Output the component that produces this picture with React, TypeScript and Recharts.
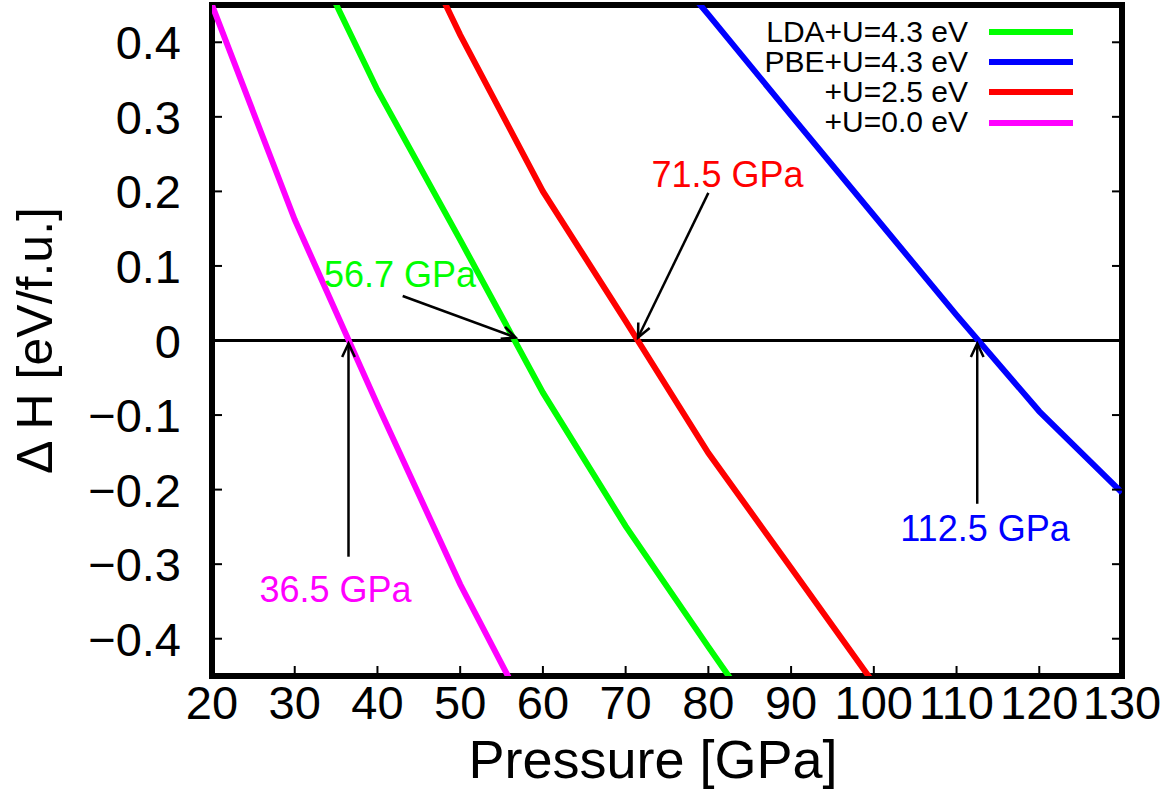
import React from 'react';
import { LineChart, Line, XAxis, YAxis, ReferenceLine, ReferenceDot, ReferenceArea, Legend, Label } from 'recharts';

// Pressure grid (GPa) and enthalpy differences ΔH (eV/f.u.) for each functional
const pressures = [20, 30, 40, 50, 60, 70, 80, 90, 100, 110, 120, 130];
const ldaU43 = [null, 0.566, 0.336, 0.135, -0.07, -0.249, -0.411, -0.57, null, null, null, null];
const pbeU43 = [null, null, null, null, null, 0.57, 0.437, 0.302, 0.168, 0.034, -0.095, -0.204];
const u25 = [null, null, 0.64, 0.41, 0.2, 0.026, -0.151, -0.305, -0.46, null, null, null];
const u00 = [0.45, 0.162, -0.086, -0.327, -0.54, null, null, null, null, null, null, null];

const xTicks = [20, 30, 40, 50, 60, 70, 80, 90, 100, 110, 120, 130];
const yTicks = [-0.4, -0.3, -0.2, -0.1, 0, 0.1, 0.2, 0.3, 0.4];
const xDomain = [20, 130];
const yDomain = [-0.45, 0.45];

const seriesNames = ['LDA+U=4.3 eV', 'PBE+U=4.3 eV', '+U=2.5 eV', '+U=0.0 eV'];
const seriesKeys = ['lda', 'pbe', 'u25', 'u00'];
const seriesColors = ['#00ff00', '#0000ff', '#ff0000', '#ff00ff'];

// Transition pressures (where ΔH crosses zero) and their annotation anchors
const transitions = [56.7, 112.5, 71.5, 36.5];
const transitionColors = ['#00ff00', '#0000ff', '#ff0000', '#ff00ff'];
const labelAnchors = [
  [42.73, 0.0722],
  [113.44, -0.2685],
  [82.31, 0.2059],
  [34.93, -0.3503],
];
const arrowTails = [
  [43.05, 0.0597],
  [112.5, -0.219],
  [80.0, 0.198],
  [36.5, -0.29],
];
const arrowTipH = [0.004, -0.004, 0.004, -0.004];

const rows = pressures.map((p, i) => ({
  p,
  lda: ldaU43[i],
  pbe: pbeU43[i],
  u25: u25[i],
  u00: u00[i],
}));

const FONT = '"Liberation Sans", Arial, Helvetica, sans-serif';

const BottomTick = (props: any) => {
  const { x, y, payload } = props;
  return (
    <g>
      <line x1={x} y1={y} x2={x} y2={y - 10} stroke="#000" strokeWidth={2} />
      <text x={x} y={y + 43} textAnchor="middle" fontSize={47} fontFamily={FONT} fill="#000">
        {payload.value}
      </text>
    </g>
  );
};

const TopTick = (props: any) => {
  const { x, y } = props;
  return <line x1={x} y1={y} x2={x} y2={y + 10} stroke="#000" strokeWidth={2} />;
};

const fmtY = (v: number) => (v === 0 ? '0' : v.toFixed(1).replace('-', '\u2212'));

const LeftTick = (props: any) => {
  const { x, y, payload } = props;
  return (
    <g>
      <line x1={x} y1={y} x2={x + 10} y2={y} stroke="#000" strokeWidth={2} />
      <text x={x - 31} y={y + 17} textAnchor="end" fontSize={47} fontFamily={FONT} fill="#000">
        {fmtY(payload.value)}
      </text>
    </g>
  );
};

const RightTick = (props: any) => {
  const { x, y } = props;
  return <line x1={x} y1={y} x2={x - 10} y2={y} stroke="#000" strokeWidth={2} />;
};

// Open "V" arrowhead at the segment end
const Arrow = (props: any) => {
  const { x1, y1, x2, y2 } = props;
  const ang = Math.atan2(y2 - y1, x2 - x1);
  const len = 15;
  const spread = (25 * Math.PI) / 180;
  const hx1 = x2 - len * Math.cos(ang - spread);
  const hy1 = y2 - len * Math.sin(ang - spread);
  const hx2 = x2 - len * Math.cos(ang + spread);
  const hy2 = y2 - len * Math.sin(ang + spread);
  return (
    <g>
      <line x1={x1} y1={y1} x2={x2} y2={y2} stroke="#000" strokeWidth={2.5} />
      <polyline
        points={`${hx1},${hy1} ${x2},${y2} ${hx2},${hy2}`}
        fill="none"
        stroke="#000"
        strokeWidth={2.5}
      />
    </g>
  );
};

// Legend rows in the series' own order
const renderLegend = () => (
  <div style={{ fontFamily: FONT, fontSize: 30, color: '#000' }}>
    {seriesNames.map((name, i) => (
      <div
        key={name}
        style={{
          display: 'flex',
          justifyContent: 'flex-end',
          alignItems: 'center',
          height: 30.33,
          lineHeight: '30.33px',
        }}
      >
        <span style={{ whiteSpace: 'nowrap' }}>{name}</span>
        <span
          style={{
            display: 'inline-block',
            width: 84,
            height: 6,
            marginLeft: 21,
            background: seriesColors[i],
          }}
        />
      </div>
    ))}
  </div>
);

const XTitle = (props: any) => {
  const { viewBox } = props;
  return (
    <text
      x={viewBox.x + viewBox.width / 2 - 14}
      y={viewBox.y + 102}
      textAnchor="middle"
      fontSize={54}
      fontFamily={FONT}
      fill="#000"
    >
      Pressure [GPa]
    </text>
  );
};

const YTitle = (props: any) => {
  const { viewBox } = props;
  const cx = 52;
  const cy = viewBox.y + viewBox.height / 2;
  return (
    <text
      x={cx}
      y={cy}
      transform={`rotate(-90, ${cx}, ${cy})`}
      textAnchor="middle"
      fontSize={50}
      fontFamily={FONT}
      fill="#000"
    >
      Δ H [eV/f.u.]
    </text>
  );
};

export default function App() {
  return (
    <div style={{ position: 'absolute', left: 0, top: 0, width: 1171, height: 794, background: '#fff' }}>
      <LineChart
        width={1171}
        height={794}
        data={rows}
        margin={{ top: 4, right: 48, bottom: 0, left: 0 }}
      >
        <XAxis
          dataKey="p"
          type="number"
          domain={xDomain}
          ticks={xTicks}
          interval={0}
          allowDataOverflow
          height={118}
          tickSize={0}
          tickMargin={0}
          tickLine={false}
          axisLine={false}
          tick={BottomTick}
          label={<Label content={XTitle} />}
        />
        <XAxis
          xAxisId="top"
          orientation="top"
          type="number"
          domain={xDomain}
          ticks={xTicks}
          interval={0}
          allowDataOverflow
          height={1}
          tickSize={0}
          tickMargin={0}
          tickLine={false}
          axisLine={false}
          tick={TopTick}
        />
        <YAxis
          type="number"
          domain={yDomain}
          ticks={yTicks}
          interval={0}
          allowDataOverflow
          width={212}
          tickSize={0}
          tickMargin={0}
          tickLine={false}
          axisLine={false}
          tick={LeftTick}
          label={<Label content={YTitle} />}
        />
        <YAxis
          yAxisId="right"
          orientation="right"
          type="number"
          domain={yDomain}
          ticks={yTicks}
          interval={0}
          allowDataOverflow
          width={1}
          tickSize={0}
          tickMargin={0}
          tickLine={false}
          axisLine={false}
          tick={RightTick}
        />
        <ReferenceLine y={0} stroke="#000" strokeWidth={3} />
        {seriesKeys.map((k, i) => (
          <Line
            key={k}
            dataKey={k}
            name={seriesNames[i]}
            type="linear"
            stroke={seriesColors[i]}
            strokeWidth={6}
            dot={false}
            activeDot={false}
            connectNulls={false}
            isAnimationActive={false}
          />
        ))}
        {transitions.map((p, i) => (
          <ReferenceLine
            key={`arrow-${p}`}
            segment={[
              { x: arrowTails[i][0], y: arrowTails[i][1] },
              { x: p, y: arrowTipH[i] },
            ]}
            shape={Arrow}
          />
        ))}
        {transitions.map((p, i) => (
          <ReferenceDot
            key={`label-${p}`}
            x={labelAnchors[i][0]}
            y={labelAnchors[i][1]}
            shape={(sp: any) => (
              <text
                x={sp.cx}
                y={sp.cy}
                textAnchor="middle"
                fontSize={36}
                fontFamily={FONT}
                fill={transitionColors[i]}
              >
                {`${p} GPa`}
              </text>
            )}
          />
        ))}
        {/* Plot frame */}
        <ReferenceArea
          x1={xDomain[0]}
          x2={xDomain[1]}
          y1={yDomain[0]}
          y2={yDomain[1]}
          fill="none"
          fillOpacity={0}
          stroke="#000"
          strokeWidth={6}
        />
        <Legend
          layout="vertical"
          align="center"
          verticalAlign="middle"
          content={renderLegend}
          wrapperStyle={{ position: 'absolute', top: 16.5, left: 600, width: 473, height: 122 }}
        />
      </LineChart>
    </div>
  );
}
